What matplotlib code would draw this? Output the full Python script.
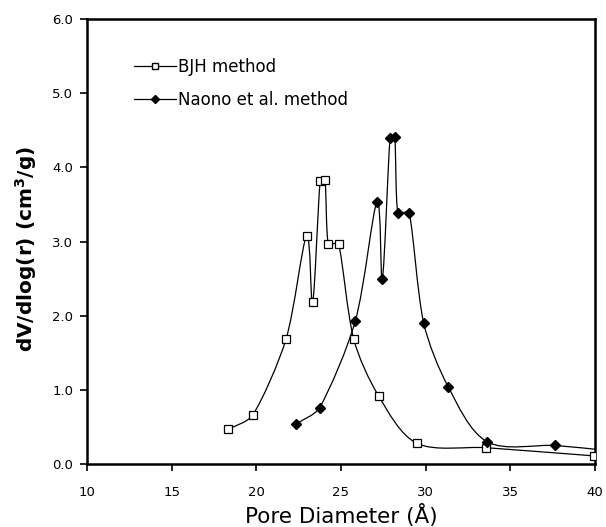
import numpy as np
import matplotlib
matplotlib.use("Agg")
import matplotlib.pyplot as plt
from matplotlib.path import Path
from matplotlib.patches import PathPatch
from matplotlib.lines import Line2D

# BJH method
bjh_x = [18.35, 19.79, 21.75, 22.97, 23.33, 23.77, 24.06, 24.25, 24.86, 25.76, 27.22, 29.48, 33.58, 39.93]
bjh_y = [0.47, 0.66, 1.68, 3.07, 2.18, 3.81, 3.83, 2.97, 2.97, 1.68, 0.92, 0.28, 0.22, 0.11]

# Naono et al. method
nao_x = [22.33, 23.74, 25.85, 27.13, 27.45, 27.90, 28.18, 28.36, 29.03, 29.89, 31.34, 33.64, 37.67, 40.4]
nao_y = [0.54, 0.76, 1.93, 3.53, 2.50, 4.39, 4.41, 3.39, 3.39, 1.90, 1.04, 0.30, 0.25, 0.19]

xticks = [10, 15, 20, 25, 30, 35, 40]
yticks = [0.0, 1.0, 2.0, 3.0, 4.0, 5.0, 6.0]


def smooth_path(xs, ys, k=0.3, yscale=4.35):
  # smoothed line as cubic bezier pieces (Excel-like), handles clamped to segment length
  pts = np.column_stack([xs, np.asarray(ys) * yscale])
  n = len(pts)
  tang, span = [], []
  for i in range(n):
    d = pts[min(i + 1, n - 1)] - pts[max(i - 1, 0)]
    ln = np.hypot(*d) or 1
    tang.append(d / ln)
    span.append(ln / 6)
  verts = [pts[0]]
  codes = [Path.MOVETO]
  for i in range(n - 1):
    p1, p2 = pts[i], pts[i + 1]
    L = np.hypot(*(p2 - p1))
    h1 = min(L * k, span[i])
    h2 = min(L * k, span[i + 1])
    verts += [p1 + tang[i] * h1, p2 - tang[i + 1] * h2, p2]
    codes += [Path.CURVE4] * 3
  verts = np.array(verts)
  verts[:, 1] /= yscale
  return Path(verts, codes)


fig = plt.figure(figsize=(6.06, 5.27), dpi=100)
ax = fig.add_axes([0.1436, 0.1195, 0.838, 0.8444])

for xs, ys in [(bjh_x, bjh_y), (nao_x, nao_y)]:
  patch = PathPatch(smooth_path(xs, ys), facecolor="none", edgecolor="black", lw=0.9)
  ax.add_patch(patch)

ax.plot(bjh_x, bjh_y, linestyle="none", marker="s", ms=5.3, mfc="white", mec="black", mew=0.9, zorder=3)
ax.plot(nao_x, nao_y, linestyle="none", marker="D", ms=4.8, mfc="black", mec="black", zorder=3)

ax.set_xlim(10, 40)
ax.set_ylim(0, 6)
ax.set_xticks(xticks)
ax.set_xticklabels([str(t) for t in xticks])
ax.set_yticks(yticks)
ax.set_yticklabels([f"{t:.1f}" for t in yticks])
ax.tick_params(direction="out", length=5, width=1.2, labelsize=9.5)
ax.tick_params(axis="x", pad=11)
ax.tick_params(axis="y", pad=5)
for s in ax.spines.values():
  s.set_linewidth(1.8)

ax.set_xlabel("Pore Diameter (Å)", fontsize=15.5, va="baseline")
ax.xaxis.set_label_coords(0.5, -0.1326)
ax.set_ylabel("dV/dlog(r) (cm$^\\mathbf{3}$/g)", fontsize=14.5, fontweight="bold", va="baseline")
ax.yaxis.set_label_coords(-0.106, 0.483)

handles = [
  Line2D([], [], color="black", lw=0.9, marker="s", ms=4.5, mfc="white", mec="black"),
  Line2D([], [], color="black", lw=0.9, marker="D", ms=4.2, mfc="black"),
]
ax.legend(handles, ["BJH method", "Naono et al. method"], loc="upper left",
          bbox_to_anchor=(0.0925, 0.913), frameon=False, fontsize=12,
          borderpad=0, borderaxespad=0,
          handlelength=2.5, handletextpad=0.15, labelspacing=0.9)

fig.savefig("out.png", dpi=100)
